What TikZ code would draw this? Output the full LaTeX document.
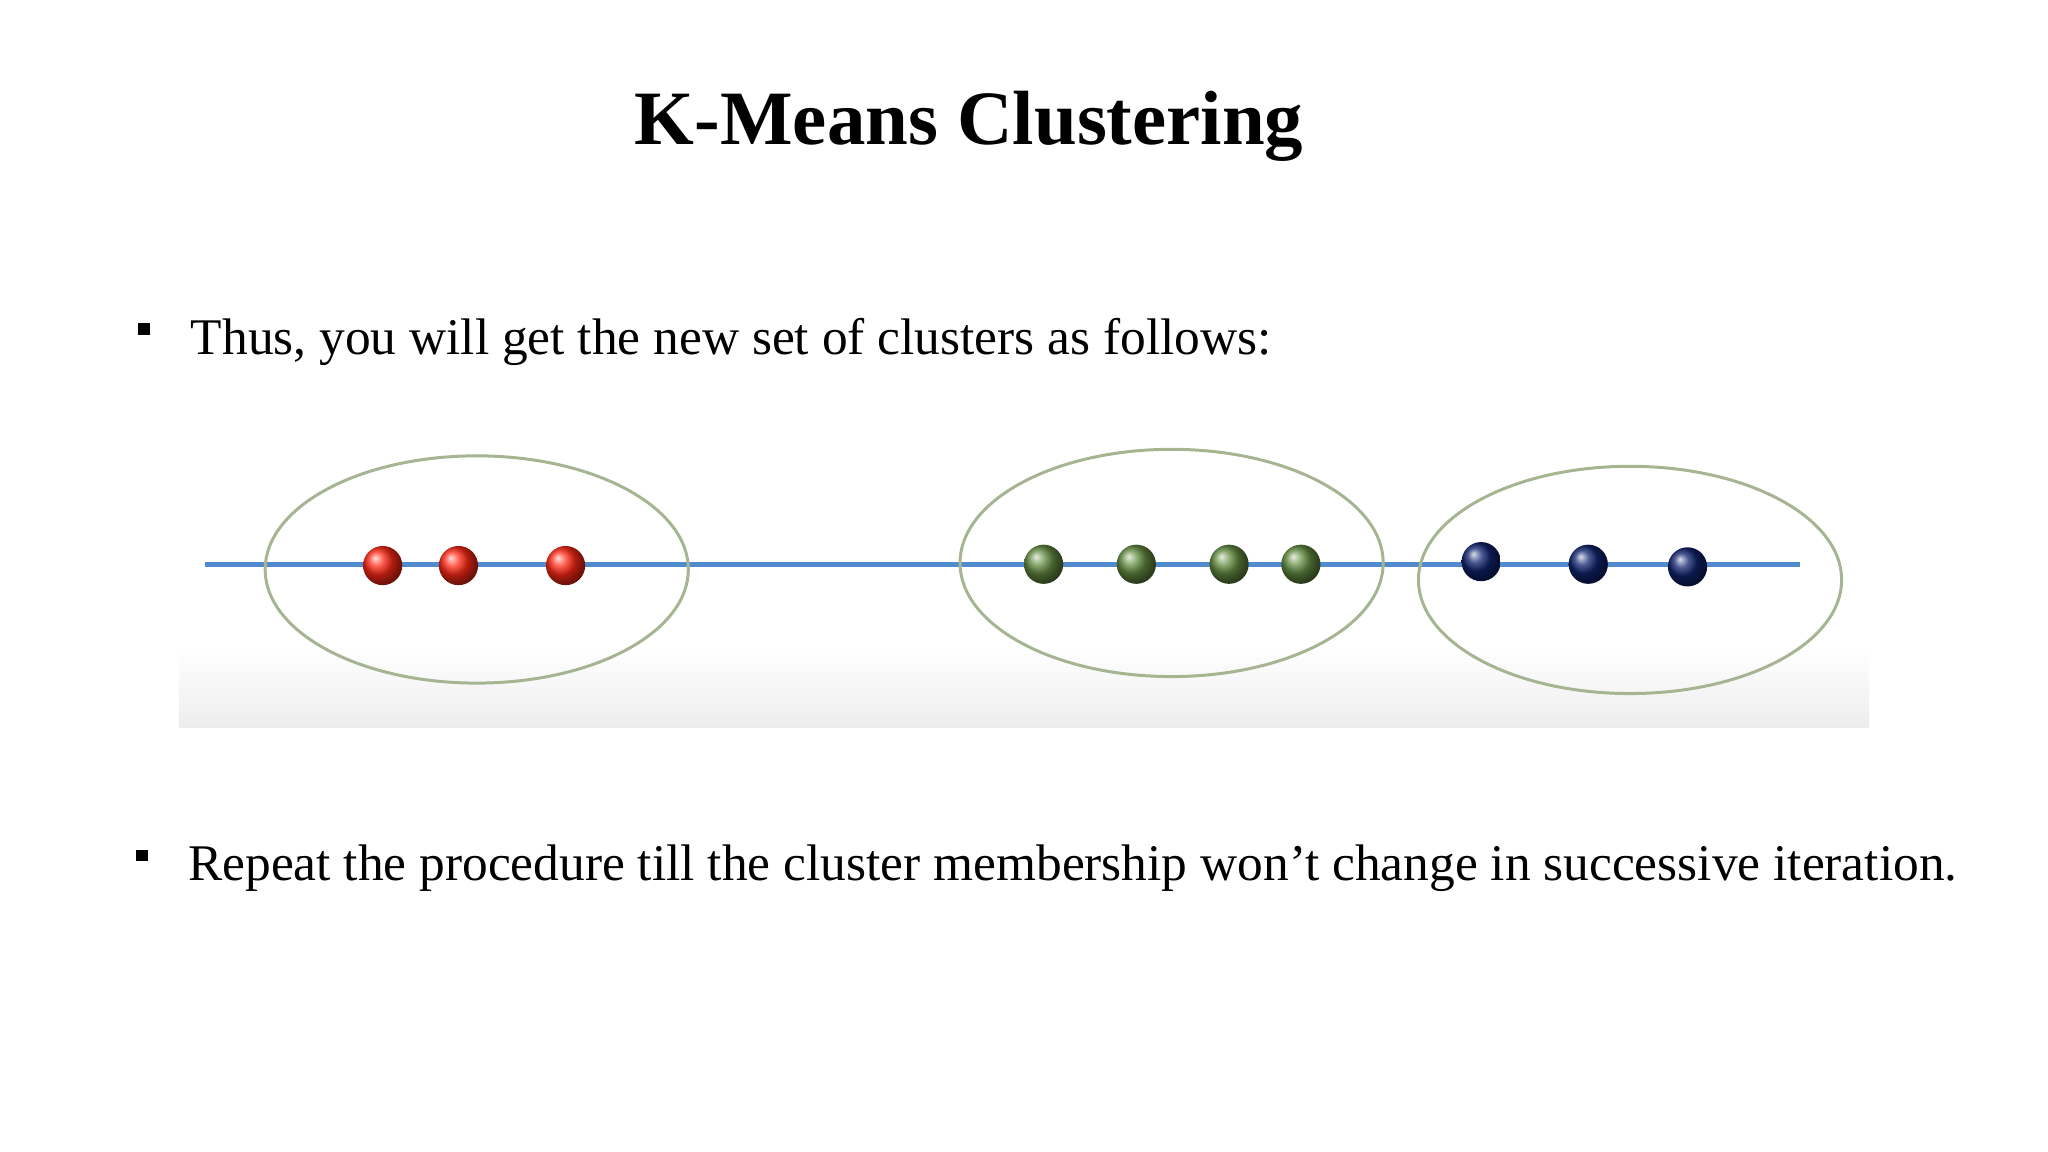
\documentclass[tikz,border=0pt]{standalone}
\usepackage{fontspec}
\setmainfont{Liberation Serif}
\begin{document}
\begin{tikzpicture}[x=0.02cm,y=-0.02cm,
  dot/.style={circle,minimum size=30*0.02cm,inner sep=0pt},
  clus/.style={draw={rgb,255:red,165;green,180;blue,145},line width=1.3pt},
  bul/.style={fill=black,minimum size=9*0.02cm,inner sep=0pt}]
\useasboundingbox (0,0) rectangle (1568,882);
\shade[top color=white,bottom color=black!7] (137,495) rectangle (1431,557);
\node[font=\bfseries\fontsize{33.5}{40}\selectfont] (title) at (742,97) {K-Means Clustering};
\node[bul] (b1) at (110,252) {};
\node[anchor=west,font=\fontsize{22.4}{26}\selectfont] (t1) at (140,262) {Thus, you will get the new set of clusters as follows:};
\node[bul] (b2) at (109,655) {};
\node[anchor=west,font=\fontsize{22.4}{26}\selectfont] (t2) at (138,665) {Repeat the procedure till the cluster membership won’t change in successive iteration.};
\coordinate (l1) at (157,432); \coordinate (l2) at (1378,432);
\draw[line width=2pt,color={rgb,255:red,80;green,140;blue,205}] (l1) -- (l2);
\draw[clus] (365,436) ellipse [x radius=162,y radius=87];
\draw[clus] (897,431) ellipse [x radius=162,y radius=87];
\draw[clus] (1248,444) ellipse [x radius=162,y radius=87];
\foreach \x/\n in {293/r1,351/r2,433/r3}
  \node[dot,ball color={rgb,255:red,255;green,40;blue,20}] (\n) at (\x,433) {};
\foreach \x/\n in {799/g1,870/g2,941/g3,996/g4}
  \node[dot,ball color={rgb,255:red,100;green,140;blue,65}] (\n) at (\x,432) {};
\node[dot,ball color={rgb,255:red,15;green,35;blue,110}] (n1) at (1134,430) {};
\node[dot,ball color={rgb,255:red,15;green,35;blue,110}] (n2) at (1216,432) {};
\node[dot,ball color={rgb,255:red,15;green,35;blue,110}] (n3) at (1292,434) {};
\end{tikzpicture}
\end{document}
